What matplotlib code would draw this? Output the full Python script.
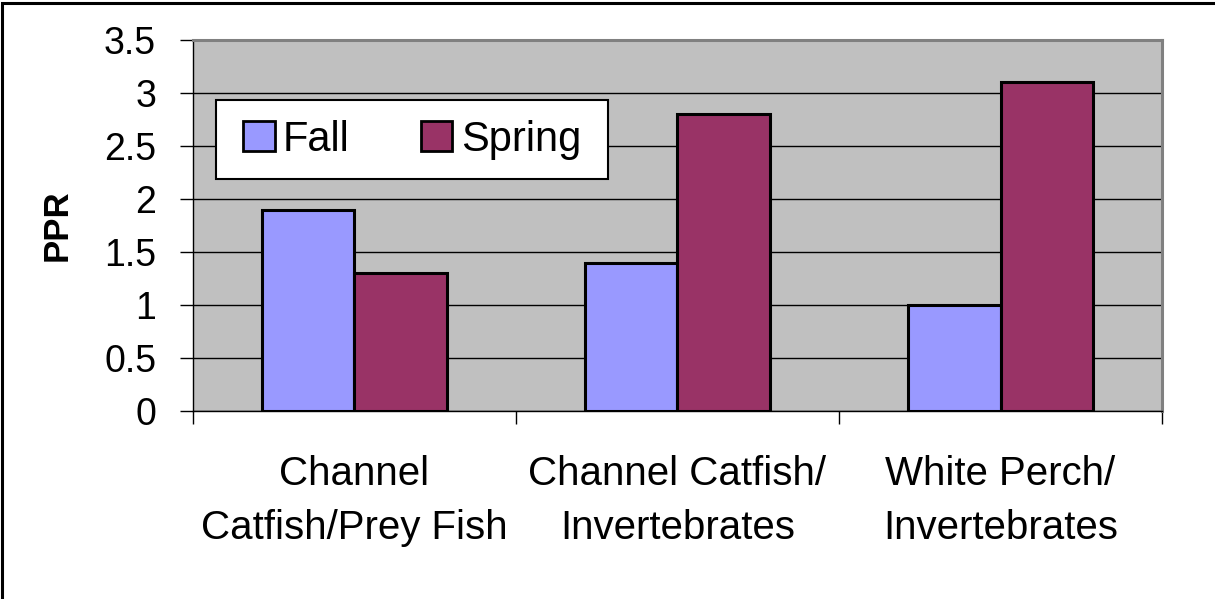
import matplotlib
matplotlib.use("Agg")
import matplotlib.pyplot as plt
from matplotlib.patches import Rectangle
from matplotlib.ticker import FixedLocator, NullFormatter, FixedFormatter
import numpy as np

categories = ["Channel\nCatfish/Prey Fish", "Channel Catfish/\nInvertebrates", "White Perch/\nInvertebrates"]
fall = [1.9, 1.4, 1.0]
spring = [1.3, 2.8, 3.1]
series_names = ["Fall", "Spring"]
y_ticks = [0, 0.5, 1, 1.5, 2, 2.5, 3, 3.5]
y_tick_labels = ["0", "0.5", "1", "1.5", "2", "2.5", "3", "3.5"]

plt.rcParams["font.family"] = ["Liberation Sans", "DejaVu Sans"]

fig = plt.figure(figsize=(12.15, 5.99), dpi=100)
ax = fig.add_axes([0.1588, 0.3139, 0.7976, 0.6193])
ax.set_facecolor("#C0C0C0")

x = np.arange(len(categories))
w = 0.285
ax.bar(x - w / 2, fall, w, color="#9999FF", edgecolor="black", linewidth=2.2,
       label=series_names[0], zorder=3)
ax.bar(x + w / 2, spring, w, color="#993366", edgecolor="black", linewidth=2.2,
       label=series_names[1], zorder=3)

ax.set_xlim(-0.5, 2.5)
ax.set_ylim(0, 3.5)
ax.yaxis.set_major_locator(FixedLocator(y_ticks))
ax.yaxis.set_major_formatter(FixedFormatter(y_tick_labels))
ax.yaxis.grid(True, color="black", linewidth=1.0, zorder=1)
ax.set_axisbelow(True)

# category boundary ticks (unlabelled) and centred labels on minor ticks
ax.xaxis.set_major_locator(FixedLocator([-0.5, 0.5, 1.5, 2.5]))
ax.xaxis.set_major_formatter(NullFormatter())
ax.xaxis.set_minor_locator(FixedLocator(list(x)))
ax.xaxis.set_minor_formatter(FixedFormatter(categories))
ax.tick_params(axis="x", which="major", length=9.5, width=1.0, direction="out", color="black")
ax.tick_params(axis="x", which="minor", length=0, pad=32, labelsize=29)
for lbl in ax.get_xticklabels(minor=True):
    lbl.set_linespacing(1.52)
ax.tick_params(axis="y", which="major", length=9.5, width=1.0, direction="out",
               color="black", pad=17, labelsize=27)

for side in ("top", "right"):
    ax.spines[side].set_color("#808080")
    ax.spines[side].set_linewidth(2.2)
for side in ("left", "bottom"):
    ax.spines[side].set_color("black")
    ax.spines[side].set_linewidth(1.0)

ax.set_ylabel("PPR", fontsize=25, fontweight="bold")
ax.yaxis.set_label_coords(-0.1228, 0.5)

# legend box drawn as its own rectangle, entries centred inside it
box_x0, box_x1, box_y0, box_y1 = 0.0237, 0.4283, 0.6253, 0.8383
ax.add_patch(Rectangle((box_x0, box_y0), box_x1 - box_x0, box_y1 - box_y0,
                       transform=ax.transAxes, facecolor="white", edgecolor="black",
                       linewidth=1.5, zorder=4))
leg = ax.legend(loc="center", bbox_to_anchor=((box_x0 + box_x1) / 2, (box_y0 + box_y1) / 2),
                borderaxespad=0, ncol=2, fontsize=30, frameon=False,
                handlelength=0.76, handleheight=0.7, handletextpad=0.2,
                columnspacing=1.7, borderpad=0)
leg.set_zorder(5)
for h in leg.legend_handles:
    h.set_linewidth(2.0)

# outer chart border
fig.patches.append(Rectangle((2 / 1215, -0.1), 1.2, 1 - 3 / 599 + 0.1,
                             transform=fig.transFigure, fill=False,
                             edgecolor="black", linewidth=2.2))

fig.savefig("out.png", dpi=100)
